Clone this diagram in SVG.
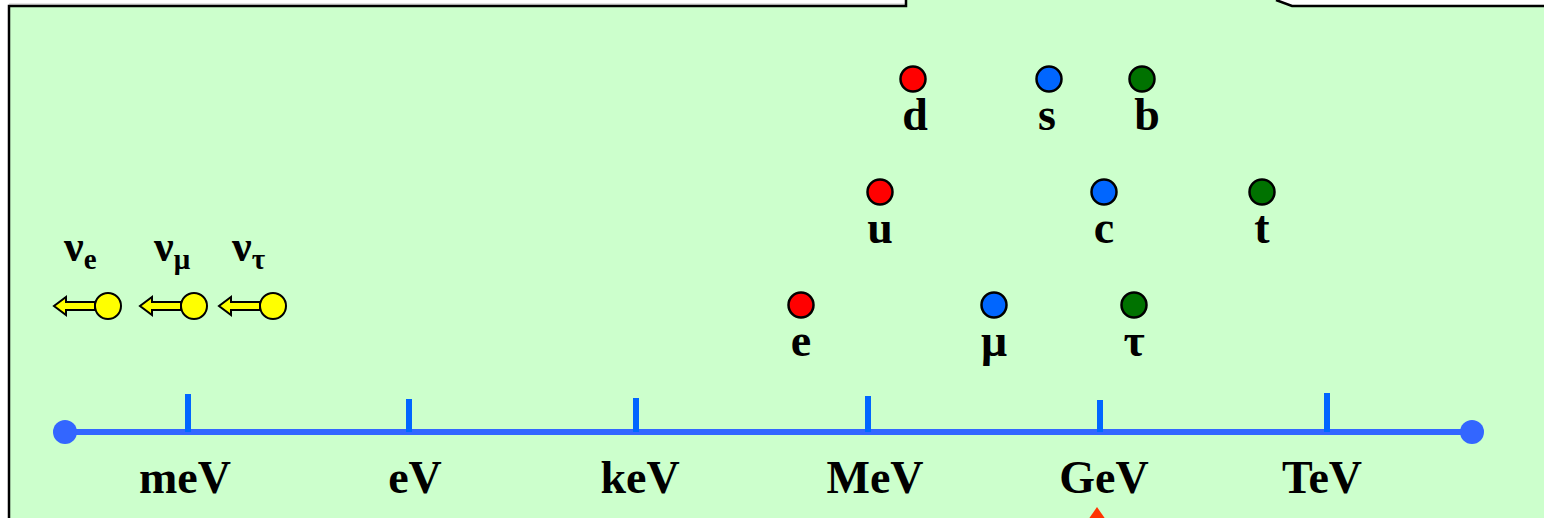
<svg xmlns="http://www.w3.org/2000/svg" width="1544" height="518" viewBox="0 0 1544 518">
  <style>
    .lbl { font-family: "Liberation Serif", "Times New Roman", serif; font-weight: bold; fill: #000; }
    .unit { font-size: 46px; text-anchor: middle; }
    .pname { font-size: 46px; text-anchor: middle; }
    .nu { font-size: 44px; }
    .sub { font-size: 29px; }
    .dot { stroke: #000; stroke-width: 2.5; }
    .red { fill: #ff0000; }
    .blue { fill: #0066ff; }
    .green { fill: #007200; }
    .yel { fill: #ffff00; stroke: #000; stroke-width: 2; }
    .tick { stroke: #0066ff; stroke-width: 6; }
  </style>
  <defs>
    <!-- neutrino: yellow ball with an arrow pointing left; origin at ball centre -->
    <g id="nuball">
      <path class="yel" d="M -13 -4 L -42 -4 L -42 -9 L -54 0 L -42 9 L -42 4 L -13 4 Z"/>
      <circle class="yel" cx="0" cy="0" r="13"/>
    </g>
  </defs>

  <rect x="0" y="0" width="1544" height="518" fill="#ffffff"/>

  <!-- panel background with the notch at the top -->
  <g id="panel">
    <polygon points="9,520 9,6 906,6 906,0 1277,0 1292,6 1550,6 1550,520" fill="#ccffcc"/>
    <polyline points="9,4 906,4" fill="none" stroke="#c8c8c8" stroke-width="1"/>
    <polyline points="9,520 9,6 906,6 906,0" fill="none" stroke="#000" stroke-width="2.5"/>
    <polyline points="1276,0 1292,6 1550,6" fill="none" stroke="#000" stroke-width="2.5"/>
  </g>

  <!-- energy axis -->
  <g id="connectors">
    <line x1="65" y1="432" x2="1472" y2="432" stroke="#3366ff" stroke-width="6"/>
    <circle cx="65" cy="432" r="12" fill="#3366ff"/>
    <circle cx="1472" cy="432" r="12" fill="#3366ff"/>
    <line class="tick" x1="188" y1="394" x2="188" y2="432"/>
    <line class="tick" x1="409" y1="399" x2="409" y2="432"/>
    <line class="tick" x1="636" y1="398" x2="636" y2="432"/>
    <line class="tick" x1="868" y1="396" x2="868" y2="432"/>
    <line class="tick" x1="1100" y1="400" x2="1100" y2="432"/>
    <line class="tick" x1="1327" y1="393" x2="1327" y2="432"/>
    <!-- marker pointing at the GeV mark -->
    <polygon points="1097,507 1088,520 1106,520" fill="#ff3300"/>
  </g>

  <g id="scale-labels">
    <text class="lbl unit" x="185" y="493">meV</text>
    <text class="lbl unit" x="415" y="493">eV</text>
    <text class="lbl unit" x="640" y="493">keV</text>
    <text class="lbl unit" x="875" y="493">MeV</text>
    <text class="lbl unit" x="1104" y="493">GeV</text>
    <text class="lbl unit" x="1322" y="493">TeV</text>
  </g>

  <!-- neutrinos -->
  <g id="nu-e">
    <use href="#nuball" x="108" y="306"/>
    <text class="lbl nu" x="64" y="261">ν<tspan class="sub" dy="8">e</tspan></text>
  </g>
  <g id="nu-mu">
    <use href="#nuball" x="194" y="306"/>
    <text class="lbl nu" x="154" y="261">ν<tspan class="sub" dy="8">μ</tspan></text>
  </g>
  <g id="nu-tau">
    <use href="#nuball" x="273" y="306"/>
    <text class="lbl nu" x="232" y="261">ν<tspan class="sub" dy="8">τ</tspan></text>
  </g>

  <!-- charged leptons -->
  <g id="electron">
    <circle class="dot red" cx="801" cy="305" r="12.5"/>
    <text class="lbl pname" x="801" y="356">e</text>
  </g>
  <g id="muon">
    <circle class="dot blue" cx="994" cy="305" r="12.5"/>
    <text class="lbl pname" x="994" y="356">μ</text>
  </g>
  <g id="tau">
    <circle class="dot green" cx="1134" cy="305" r="12.5"/>
    <text class="lbl pname" x="1134" y="356">τ</text>
  </g>

  <!-- up-type quarks -->
  <g id="up">
    <circle class="dot red" cx="880" cy="192" r="12.5"/>
    <text class="lbl pname" x="880" y="243">u</text>
  </g>
  <g id="charm">
    <circle class="dot blue" cx="1104" cy="192" r="12.5"/>
    <text class="lbl pname" x="1104" y="243">c</text>
  </g>
  <g id="top">
    <circle class="dot green" cx="1262" cy="192" r="12.5"/>
    <text class="lbl pname" x="1262" y="243">t</text>
  </g>

  <!-- down-type quarks -->
  <g id="down">
    <circle class="dot red" cx="913" cy="79" r="12.5"/>
    <text class="lbl pname" x="915" y="130">d</text>
  </g>
  <g id="strange">
    <circle class="dot blue" cx="1049" cy="79" r="12.5"/>
    <text class="lbl pname" x="1047" y="130">s</text>
  </g>
  <g id="bottom">
    <circle class="dot green" cx="1142" cy="79" r="12.5"/>
    <text class="lbl pname" x="1147" y="130">b</text>
  </g>
</svg>
